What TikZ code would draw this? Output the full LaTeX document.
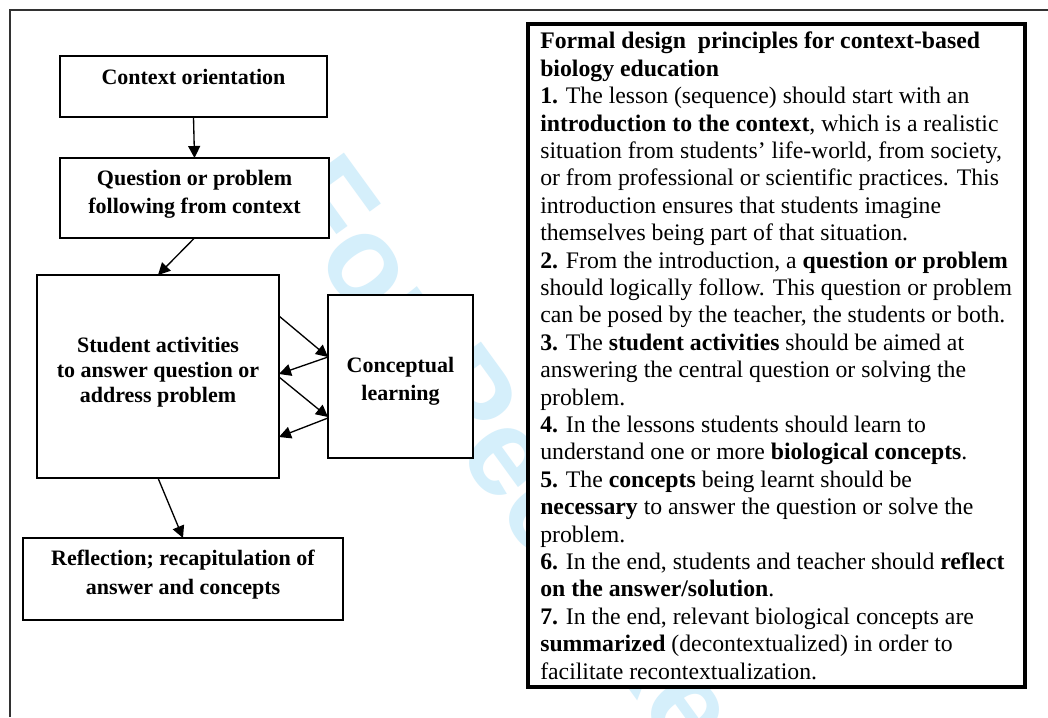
\documentclass[tikz,border=0pt]{standalone}
\usepackage{fontspec}
\setmainfont{Liberation Serif}
\newfontfamily\wmfont{Liberation Sans}
\usetikzlibrary{arrows.meta,calc}
\definecolor{wmblue}{RGB}{213,239,251}
\definecolor{framegray}{RGB}{50,50,50}
\def\pxu{0.75pt}
\begin{document}
\begin{tikzpicture}[x=0.75pt,y=-0.75pt,
  box/.style={draw=black, fill=white, line width=1.1pt, inner sep=0pt, outer sep=0pt},
  lbl/.style={align=center, inner sep=0pt},
  conn/.style={line width=1pt, -{Triangle[length=9pt,width=9pt]}},
]
\useasboundingbox (0,0) rectangle (1048,717);
\fill[white] (0,0) rectangle (1048,717);

% watermark
\node[anchor=base west, inner sep=0pt, rotate=-54, text=wmblue,
      font=\wmfont\bfseries\fontsize{93}{93}\selectfont] (wm) at (270,196) {For Peer Review};

% frame
\coordinate (fbl) at (10,717);
\coordinate (ftl) at (10,10);
\coordinate (ftr) at (1048,10);
\draw[framegray, line width=0.8pt] (fbl) -- (ftl) -- (ftr);

% flow boxes
\node[box, minimum width=267*\pxu, minimum height=61*\pxu] (b1) at (193.5,86.5) {};
\node[box, minimum width=269*\pxu, minimum height=80*\pxu] (b2) at (194.5,198) {};
\node[box, minimum width=242*\pxu, minimum height=203*\pxu] (b3) at (158,376.5) {};
\node[box, minimum width=145*\pxu, minimum height=163*\pxu] (b4) at (400.5,376.5) {};
\node[box, minimum width=320*\pxu, minimum height=82*\pxu] (b5) at (183,579) {};

\node[lbl, font=\fontsize{16.5}{21}\selectfont\bfseries] (t1) at (193.5,77) {Context orientation};
\node[lbl, font=\fontsize{16.5}{21}\selectfont\bfseries] (t2) at (194.5,194) {Question or problem\\following from context};
\node[lbl, font=\fontsize{16.5}{18.75}\selectfont\bfseries] (t3) at (158,372) {Student activities\\to answer question or\\address problem};
\node[lbl, font=\fontsize{16.5}{21}\selectfont\bfseries] (t4) at (400.5,381) {Conceptual\\learning};
\node[lbl, font=\fontsize{16.5}{21.75}\selectfont\bfseries] (t5) at (183,574.5) {Reflection; recapitulation of\\answer and concepts};

% connectors
\draw[conn] (b1.south) -- (b2.north);
\draw[conn] (b2.south) -- (b3.north);
\draw[conn] ($(b3.north east)+(0,41)$) -- ($(b4.north west)+(0,62)$);
\draw[conn] ($(b4.north west)+(0,62)$) -- ($(b3.north east)+(0,99)$);
\draw[conn] ($(b3.north east)+(0,102)$) -- ($(b4.north west)+(0,122)$);
\draw[conn] ($(b4.north west)+(0,123)$) -- ($(b3.north east)+(0,162)$);
\draw[conn] (b3.south) -- (b5.north);

% principles box
\node[box, line width=2.6pt, minimum width=497*\pxu, minimum height=663*\pxu] (pbox) at (776.5,355.5) {};
\node[anchor=north west, inner sep=0pt, align=left, font=\fontsize{17.8}{20.55}\selectfont] (ptext) at (540,32) {%
\textbf{Formal design\ \ principles for context-based}\\
\textbf{biology education}\\
\textbf{1.} The lesson (sequence) should start with an\\
\textbf{introduction to the context}, which is a realistic\\
situation from students’ life-world, from society,\\
or from professional or scientific practices. This\\
introduction ensures that students imagine\\
themselves being part of that situation.\\
\textbf{2.} From the introduction, a \textbf{question or problem}\\
should logically follow. This question or problem\\
can be posed by the teacher, the students or both.\\
\textbf{3.} The \textbf{student activities} should be aimed at\\
answering the central question or solving the\\
problem.\\
\textbf{4.} In the lessons students should learn to\\
understand one or more \textbf{biological concepts}.\\
\textbf{5.} The \textbf{concepts} being learnt should be\\
\textbf{necessary} to answer the question or solve the\\
problem.\\
\textbf{6.} In the end, students and teacher should \textbf{reflect}\\
\textbf{on the answer/solution}.\\
\textbf{7.} In the end, relevant biological concepts are\\
\textbf{summarized} (decontextualized) in order to\\
facilitate recontextualization.};
\end{tikzpicture}
\end{document}
